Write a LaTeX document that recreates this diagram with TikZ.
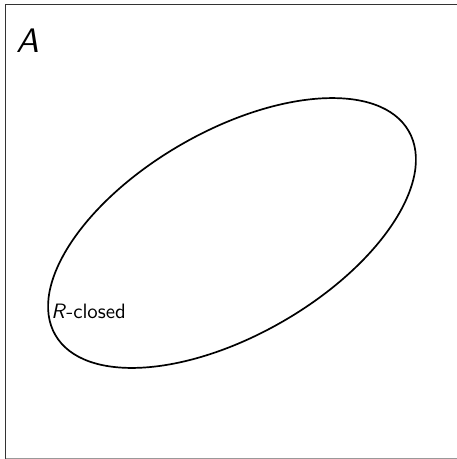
\documentclass[tikz,border=0pt]{standalone}
\begin{document}
\begin{tikzpicture}[x=1pt,y=-1pt,
  frame/.style={draw=black!80,line width=1pt},
  setline/.style={draw=black,line width=1.7pt},
  lbl/.style={font=\sffamily\fontsize{10}{12}\selectfont,inner sep=0pt}]
\useasboundingbox (0,0) rectangle (457,459);
\draw[frame] (5.5,459.5) -- (5.5,4.5) -- (460,4.5);
\draw[frame,draw=black!40] (5.5,458) -- (460,458);
\draw[setline] (232,233) ellipse[x radius=204, y radius=102, rotate=30];
\node[font=\sffamily\itshape\fontsize{10}{12}\selectfont,anchor=base west,inner sep=0pt,scale=3.4] (A) at (16,52) {A};
\node[lbl,anchor=base west,scale=2.08] (R) at (51,318) {\textit{R}-closed};
\end{tikzpicture}
\end{document}
